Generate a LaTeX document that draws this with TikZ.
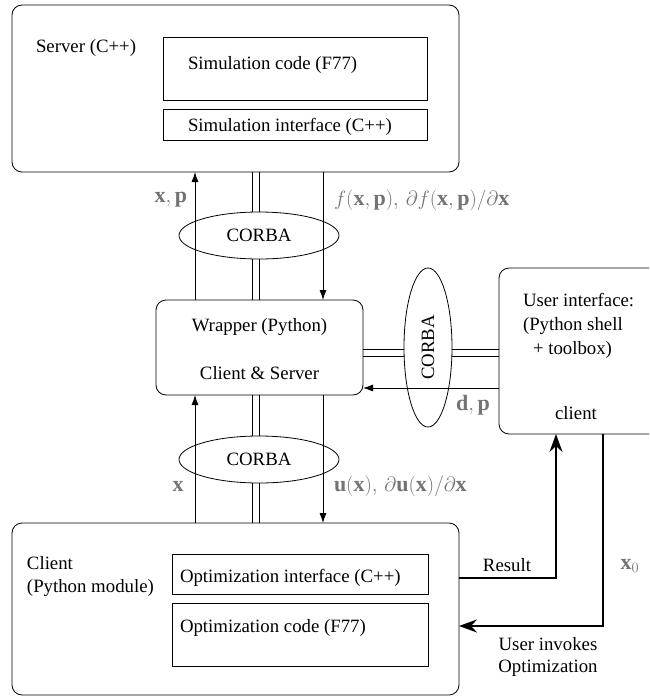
\documentclass[tikz,border=0pt]{standalone}
\usepackage{fontspec}
\setmainfont{Liberation Serif}
\usetikzlibrary{shapes.geometric,arrows.meta,calc}
\begin{document}
\begin{tikzpicture}[x=1pt,y=-1pt,
  every node/.style={font=\fontsize{18.8}{23.5}\selectfont, inner sep=0pt, outer sep=0pt},
  rbox/.style={draw, line width=0.8pt, rounded corners=10pt},
  sbox/.style={draw, line width=0.8pt},
  corba/.style={draw, ellipse, fill=white, line width=0.8pt, inner sep=0pt},
  tarrow/.style={line width=0.8pt, -{Latex[length=10pt,width=7pt]}},
  tharrow/.style={line width=2.4pt, -{Stealth[length=18pt,width=13pt,inset=6pt]}},
  rail/.style={line width=0.8pt},
  mlabel/.style={text=black!55, font=\fontsize{22}{26}\selectfont}
]
\useasboundingbox (0,0) rectangle (649,697);
\clip (0,0) rectangle (649,697);

% boxes
\node[rbox, minimum width=447pt, minimum height=167pt] (server) at (235.5,88.5) {};
\node[sbox, minimum width=264pt, minimum height=63pt] (simcode) at (295,68.5) {};
\node[sbox, minimum width=264pt, minimum height=31pt] (simint) at (295,124.5) {};
\node[rbox, minimum width=207pt, minimum height=95pt] (wrapper) at (259.5,347.5) {};
\node[rbox, minimum width=165pt, minimum height=166pt] (user) at (581.5,351) {};
\node[rbox, minimum width=447pt, minimum height=172pt] (client) at (235.5,609) {};
\node[sbox, minimum width=256pt, minimum height=40pt] (optint) at (300,574.5) {};
\node[sbox, minimum width=256pt, minimum height=63pt] (optcode) at (300,634.5) {};

% texts
\node[anchor=west] (servertxt) at (36,48) {Server (C++)};
\node[anchor=west] (simcodetxt) at (188,65) {Simulation code (F77)};
\node[anchor=west] (siminttxt) at (188,127) {Simulation interface (C++)};
\node (wraptxt) at (259.5,327) {Wrapper (Python)};
\node (wrapcs) at (259.5,373) {Client \& Server};
\node[anchor=west, align=left, font=\fontsize{18.8}{24}\selectfont] (usertxt) at (523,326) {User interface:\\(Python shell\\\hspace*{10pt}+ toolbox)};
\node (clienttxt) at (576,413) {client};
\node[anchor=west, align=left, font=\fontsize{18.8}{23}\selectfont] (cltxt) at (27,576.5) {Client\\(Python module)};
\node[anchor=west] (optinttxt) at (180,578) {Optimization interface (C++)};
\node[anchor=west] (optcodetxt) at (180,628) {Optimization code (F77)};
\node (restxt) at (507,565) {Result};
\node[align=center, font=\fontsize{18.8}{22}\selectfont] (invtxt) at (548,657) {User invokes\\Optimization};

% helper coordinates
\coordinate (xa) at (195,0);
\coordinate (xb) at (323,0);
\coordinate (xd1) at (252,0);
\coordinate (xd2) at (259,0);
\coordinate (yd1) at (0,349);
\coordinate (yd2) at (0,356);
\coordinate (ydp) at (0,388);
\coordinate (resturn) at (556,578);
\coordinate (invturn) at (603,626);

% double lines (pairs of rails)
\draw[rail] (server.south -| xd1) -- (wrapper.north -| xd1);
\draw[rail] (server.south -| xd2) -- (wrapper.north -| xd2);
\draw[rail] (wrapper.south -| xd1) -- (client.north -| xd1);
\draw[rail] (wrapper.south -| xd2) -- (client.north -| xd2);
\draw[rail] (wrapper.east |- yd1) -- (user.west |- yd1);
\draw[rail] (wrapper.east |- yd2) -- (user.west |- yd2);

% CORBA ellipses
\node[corba, minimum width=160pt, minimum height=47pt] (corbaA) at (259,235.5) {CORBA};
\node[corba, minimum width=160pt, minimum height=47pt] (corbaB) at (259,459.5) {CORBA};
\node[corba, rotate=90, minimum width=159pt, minimum height=48pt] (corbaC) at (428,347.5) {CORBA};

% thin arrows
\draw[tarrow] (wrapper.north -| xa) -- (server.south -| xa);
\draw[tarrow] (server.south -| xb) -- (wrapper.north -| xb);
\draw[tarrow] (client.north -| xa) -- (wrapper.south -| xa);
\draw[tarrow] (wrapper.south -| xb) -- (client.north -| xb);
\draw[tarrow] (user.west |- ydp) -- (wrapper.east |- ydp);

% thick arrows
\draw[tharrow] (resturn -| client.east) -- (resturn) -- (resturn |- user.south);
\draw[tharrow] (invturn |- user.south) -- (invturn) -- (invturn -| client.east);

% math labels
\node[mlabel, anchor=east] (lxp) at (187,200) {$\mathbf{x},\mathbf{p}$};
\node[mlabel, anchor=west] (lf) at (334,200) {$f(\mathbf{x},\mathbf{p}),\,\partial f(\mathbf{x},\mathbf{p})/\partial\mathbf{x}$};
\node[mlabel] (lx) at (178,486) {$\mathbf{x}$};
\node[mlabel, anchor=west] (lu) at (334,486) {$\mathbf{u}(\mathbf{x}),\,\partial\mathbf{u}(\mathbf{x})/\partial\mathbf{x}$};
\node[mlabel] (ldp) at (473,405) {$\mathbf{d},\mathbf{p}$};
\node[mlabel] (lx0) at (630,566) {$\mathbf{x}_0$};
\end{tikzpicture}
\end{document}
